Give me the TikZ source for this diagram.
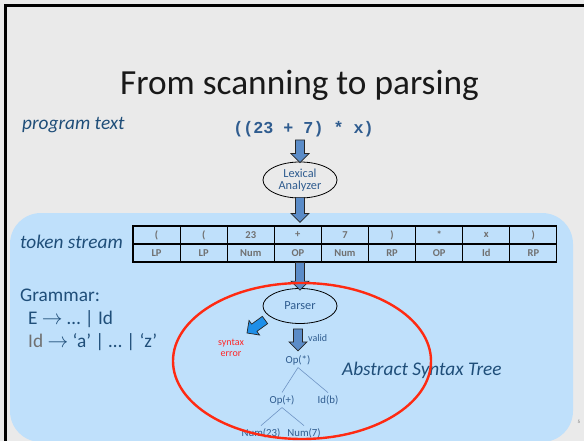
\documentclass[tikz,border=0pt]{standalone}
\usepackage{fontspec}
\setmainfont{Carlito}
\setmonofont{Liberation Mono}
\usetikzlibrary{calc,shapes.geometric}
\definecolor{bg}{HTML}{EAEAEA}
\definecolor{panel}{HTML}{BFE0FB}
\definecolor{dblue}{HTML}{1F4E79}
\definecolor{tblue}{HTML}{2F5C8F}
\definecolor{tgrey}{HTML}{707070}
\definecolor{arrfill}{HTML}{5B8CC8}
\definecolor{errfill}{HTML}{1E8FE8}
\definecolor{redline}{HTML}{FF2A12}
\definecolor{treeline}{HTML}{6F94C4}
\newcommand\blockarrow[3]{%
  \coordinate (bah) at ($(#2)!9pt!(#1)$);
  \filldraw[fill=#3, draw=black!85, line width=0.7pt, line join=miter]
    ($(#1)!4.5pt!90:(#2)$) -- ($(bah)!4.5pt!90:(#2)$) -- ($(bah)!9pt!90:(#2)$) -- (#2)
    -- ($(bah)!9pt!-90:(#2)$) -- ($(bah)!4.5pt!-90:(#2)$) -- ($(#1)!4.5pt!-90:(#2)$) -- cycle;}
\begin{document}
\begin{tikzpicture}[x=1pt,y=-1pt,
  lbl/.style={text=dblue, font=\fontsize{19.3}{22}\selectfont\itshape, anchor=base west, inner sep=0},
  gline/.style={text=dblue, font=\fontsize{19.3}{22}\selectfont, anchor=base west, inner sep=0},
  procell/.style={ellipse, draw=black, line width=0.8pt, minimum width=74pt, minimum height=36pt, inner sep=0, text=tblue, align=center, font=\fontsize{12.3}{13.5}\selectfont},
  cell/.style={draw=black, line width=1.1pt, minimum width=47.1pt, minimum height=18pt, inner sep=0, text=tgrey, font=\fontsize{10.5}{11}\selectfont\bfseries},
  tree/.style={text=tblue, font=\fontsize{10.8}{12}\selectfont, inner sep=2.5pt},
  tline/.style={draw=treeline, line width=0.6pt}]
\fill[bg] (0,0) rectangle (584,441);
\useasboundingbox (0,0) rectangle (584,441);
\fill[black] (4,4.5) rectangle (584,7);
\fill[black] (4,4.5) rectangle (6.5,441);
\fill[panel, rounded corners=31pt] (10,213) rectangle (573,442);
\node[font=\fontsize{35.3}{38}\selectfont, text=black!90, anchor=base, inner sep=0] (title) at (299.5,95) {From scanning to parsing};
\node[lbl] (prog) at (22,130) {program text};
\node[text=tblue, font=\fontsize{16.7}{20}\selectfont\ttfamily\bfseries, inner sep=0] (code) at (303.5,129) {((23 + 7) * x)};
\node[procell] (lex) at (300,180) {Lexical\\[-1pt]Analyzer};
\node[lbl] (ts) at (20,248) {token stream};
\node[cell] (t1) at (156.55,235) {(};
\node[cell] (t2) at (203.65,235) {(};
\node[cell] (t3) at (250.75,235) {23};
\node[cell] (t4) at (297.85,235) {+};
\node[cell] (t5) at (344.95,235) {7};
\node[cell] (t6) at (392.05,235) {)};
\node[cell] (t7) at (439.15,235) {*};
\node[cell] (t8) at (486.25,235) {x};
\node[cell] (t9) at (533.35,235) {)};
\node[cell] (b1) at (156.55,253) {LP};
\node[cell] (b2) at (203.65,253) {LP};
\node[cell] (b3) at (250.75,253) {Num};
\node[cell] (b4) at (297.85,253) {OP};
\node[cell] (b5) at (344.95,253) {Num};
\node[cell] (b6) at (392.05,253) {RP};
\node[cell] (b7) at (439.15,253) {OP};
\node[cell] (b8) at (486.25,253) {Id};
\node[cell] (b9) at (533.35,253) {RP};
\node[procell, minimum height=35pt] (parser) at (300,306) {Parser};
\node[gline] (g1) at (20,301) {Grammar:};
\node[gline] (g2) at (28,324) {E $\rightarrow$ … | Id};
\node[gline] (g3) at (28,347) {{\color{tgrey}Id} $\rightarrow$ ‘a’ | … | ‘z’};
\node[text=red!85, font=\fontsize{10}{11.5}\selectfont, align=center, inner sep=0] (err) at (231,348) {syntax\\error};
\node[text=tblue, font=\fontsize{10}{11}\selectfont, inner sep=0, anchor=west] (valid) at (308,338) {valid};
\node[tree] (opstar) at (298,360) {Op(*)};
\node[tree] (opplus) at (282,400) {Op(+)};
\node[tree] (idb) at (328,400) {Id(b)};
\node[tree] (n23) at (261,433) {Num(23)};
\node[tree] (n7) at (304,433) {Num(7)};
\draw[tline] (opstar.south) -- (opplus.north);
\draw[tline] (opstar.south) -- (idb.north);
\draw[tline] (opplus.south) -- (n23.north);
\draw[tline] (opplus.south) -- (n7.north);
\node[lbl] (ast) at (342,375) {Abstract Syntax Tree};
\node[text=tgrey, font=\fontsize{5}{6}\selectfont, inner sep=0] (pg) at (579,422) {5};
\coordinate (a1s) at ($(code.south)+(-3.5,3)$);
\coordinate (a1e) at ($(lex.north)+(0,1)$);
\blockarrow{a1s}{a1e}{arrfill}
\coordinate (a2s) at ($(lex.south)+(0,-1)$);
\coordinate (a2e) at ($(lex.south |- t4.north)+(0,-3)$);
\blockarrow{a2s}{a2e}{arrfill}
\coordinate (a3s) at ($(b4.south -| parser.north)$);
\coordinate (a3e) at ($(parser.north)+(0,2)$);
\blockarrow{a3s}{a3e}{arrfill}
\coordinate (a4s) at ($(parser.south)+(-2,5)$);
\coordinate (a4e) at ($(parser.south)+(-2,27)$);
\blockarrow{a4s}{a4e}{arrfill}
\coordinate (a5s) at (265,320);
\coordinate (a5e) at (247,333);
\blockarrow{a5s}{a5e}{errfill}
\draw[redline, line width=2.4pt] (302,361) ellipse [x radius=129, y radius=78];
\end{tikzpicture}
\end{document}
